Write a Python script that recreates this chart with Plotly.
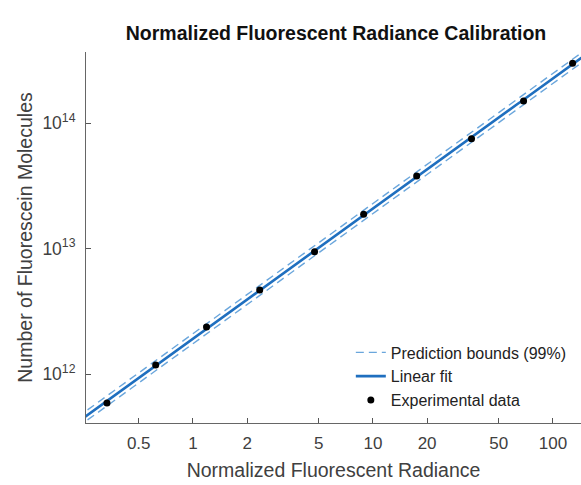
import numpy as np
import plotly.graph_objects as go

# Data
radiance = [0.333, 0.621, 1.19, 2.35, 4.74, 8.88, 17.5, 35.3, 68.7, 128.6]
molecules = [5.88e11, 1.18e12, 2.37e12, 4.67e12, 9.44e12, 1.88e13, 3.78e13, 7.50e13, 1.50e14, 2.99e14]
x_tickvals = [0.5, 1, 2, 5, 10, 20, 50, 100]
x_ticktext = ["0.5", "1", "2", "5", "10", "20", "50", "100"]
y_tickvals = [1e12, 1e13, 1e14]
y_ticktext = ["10<sup>12</sup>", "10<sup>13</sup>", "10<sup>14</sup>"]
bound_log_halfwidth = 0.04  # decades (99% prediction bounds)

x_range_log = [-0.594, 2.156]
y_range_log = [11.61, 14.566]

# Linear fit in log-log space
lx = np.log10(radiance)
ly = np.log10(molecules)
slope, intercept = np.polyfit(lx, ly, 1)
fit_lx = np.linspace(x_range_log[0] - 0.05, x_range_log[1] + 0.05, 200)
fit_ly = slope * fit_lx + intercept
fit_x = 10 ** fit_lx
fit_y = 10 ** fit_ly
upper = 10 ** (fit_ly + bound_log_halfwidth)
lower = 10 ** (fit_ly - bound_log_halfwidth)

blue = "#1f6fbf"
light_blue = "#6aa6dc"
txt = "#404040"
font = "Liberation Sans, Arial, sans-serif"

fig = go.Figure()
fig.add_trace(go.Scatter(x=fit_x, y=upper, mode="lines", name="Prediction bounds (99%)",
                         legendgroup="pb", line=dict(color=light_blue, width=1.4, dash="8px,5px")))
fig.add_trace(go.Scatter(x=fit_x, y=lower, mode="lines", name="Prediction bounds (99%)",
                         legendgroup="pb", showlegend=False,
                         line=dict(color=light_blue, width=1.4, dash="8px,5px")))
fig.add_trace(go.Scatter(x=fit_x, y=fit_y, mode="lines", name="Linear fit",
                         line=dict(color=blue, width=2.6)))
fig.add_trace(go.Scatter(x=radiance, y=molecules, mode="markers", name="Experimental data",
                         marker=dict(color="black", size=7)))

fig.update_layout(
    width=581, height=485,
    margin=dict(l=86, r=0, t=52, b=62),
    paper_bgcolor="white", plot_bgcolor="white",
    font=dict(family=font, color=txt, size=16),
    title=dict(text="<b>Normalized Fluorescent Radiance Calibration</b>",
               x=(336) / 581, xanchor="center", y=1 - 33 / 485, yanchor="middle",
               font=dict(size=19.5, color="#111111")),
    legend=dict(x=0.535, y=0.015, xanchor="left", yanchor="bottom",
                bgcolor="rgba(255,255,255,0.9)", font=dict(size=16, color="#222222"),
                tracegroupgap=0, itemwidth=30),
    showlegend=True,
)
fig.update_xaxes(type="log", range=x_range_log, tickvals=x_tickvals, ticktext=x_ticktext,
                 ticks="inside", ticklen=5, tickcolor="#555", showline=True, linecolor="#666",
                 linewidth=1, showgrid=False, zeroline=False, ticklabelstandoff=5,
                 title=dict(text="Normalized Fluorescent Radiance", font=dict(size=19.5, color=txt), standoff=10),
                 tickfont=dict(size=17, color=txt))
fig.update_yaxes(type="log", range=y_range_log, tickvals=y_tickvals, ticktext=y_ticktext,
                 ticks="inside", ticklen=5, tickcolor="#555", showline=True, linecolor="#666",
                 linewidth=1, showgrid=False, zeroline=False, ticklabelstandoff=6,
                 title=dict(text="Number of Fluorescein Molecules", font=dict(size=19.5, color=txt), standoff=4),
                 tickfont=dict(size=17.5, color=txt))

fig.write_html("out.html")
